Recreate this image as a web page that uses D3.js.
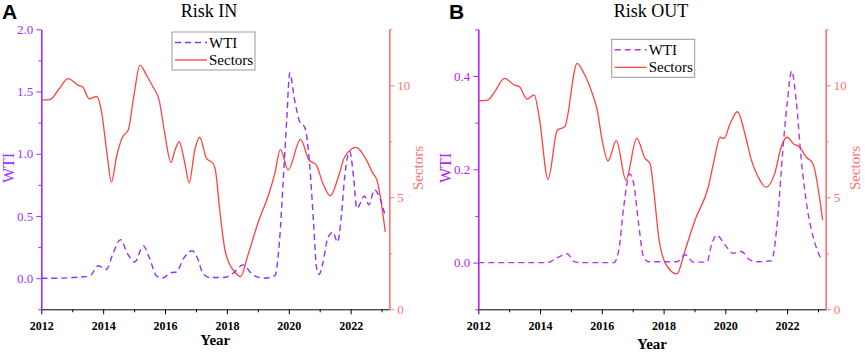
<!DOCTYPE html>
<html>
<head>
<meta charset="utf-8">
<script src="https://cdn.jsdelivr.net/npm/d3@7"></script>
<style>
  body { margin: 0; background: #fff; }
  text { font-family: "Liberation Serif", "Times New Roman", serif; }
  text.letter { font-family: "Liberation Sans", Arial, sans-serif; }
</style>
</head>
<body>
<div id="chart"></div>
<script>
const width = 865, height = 352;

// ---- data ----
const yearTicks = [2012, 2014, 2016, 2018, 2020, 2022];

// panel A, Risk IN
const wtiInYear = [2012.0, 2012.5, 2013.0, 2013.3, 2013.58, 2013.84, 2014.1, 2014.32, 2014.56, 2014.78, 2015.02, 2015.3, 2015.5, 2015.72, 2015.9, 2016.2, 2016.37, 2016.6, 2016.88, 2017.05, 2017.22, 2017.45, 2017.9, 2018.2, 2018.52, 2018.84, 2019.2, 2019.55, 2019.7, 2019.82, 2019.94, 2020.03, 2020.19, 2020.35, 2020.52, 2020.68, 2020.8, 2020.9, 2020.98, 2021.1, 2021.27, 2021.42, 2021.58, 2021.7, 2021.81, 2021.97, 2022.1, 2022.2, 2022.45, 2022.59, 2022.77, 2022.88, 2023.1];
const wtiInVal = [0, 0, 0.005, 0.01, 0.02, 0.1, 0.07, 0.2, 0.31, 0.2, 0.13, 0.26, 0.16, 0.02, 0.0, 0.045, 0.05, 0.16, 0.22, 0.16, 0.04, 0.005, 0.005, 0.04, 0.107, 0.027, 0.0, 0.02, 0.3, 0.78, 1.3, 1.65, 1.43, 1.26, 1.21, 0.9, 0.45, 0.08, 0.03, 0.12, 0.33, 0.37, 0.29, 0.5, 0.82, 1.02, 0.8, 0.56, 0.66, 0.59, 0.71, 0.68, 0.52];
const sectorsInYear = [2012.0, 2012.28, 2012.55, 2012.87, 2013.2, 2013.34, 2013.55, 2013.79, 2013.95, 2014.11, 2014.27, 2014.43, 2014.63, 2014.81, 2015.0, 2015.19, 2015.4, 2015.62, 2015.81, 2015.99, 2016.19, 2016.32, 2016.46, 2016.64, 2016.78, 2016.96, 2017.12, 2017.34, 2017.55, 2017.63, 2017.77, 2017.93, 2018.09, 2018.25, 2018.44, 2018.68, 2019.0, 2019.38, 2019.55, 2019.73, 2019.98, 2020.38, 2020.65, 2020.89, 2021.1, 2021.34, 2021.59, 2021.81, 2022.18, 2022.51, 2022.72, 2022.85, 2023.12];
const sectorsInVal = [9.35, 9.36, 9.79, 10.3, 10.0, 9.92, 9.4, 9.5, 8.8, 7.1, 5.68, 6.8, 7.7, 8.0, 9.6, 10.9, 10.45, 9.9, 9.34, 7.86, 6.55, 7.1, 7.48, 6.52, 5.65, 7.1, 7.68, 6.74, 6.52, 6.2, 4.4, 2.7, 2.0, 1.68, 1.46, 2.42, 3.84, 5.25, 6.07, 7.14, 6.22, 7.59, 6.67, 6.44, 5.63, 5.06, 5.85, 6.81, 7.23, 6.67, 6.07, 5.77, 3.46];

// panel B, Risk OUT
const wtiOutYear = [2012.0, 2014.24, 2014.51, 2014.88, 2015.1, 2015.3, 2016.39, 2016.55, 2016.71, 2016.9, 2017.03, 2017.19, 2017.35, 2017.51, 2018.43, 2018.7, 2018.97, 2019.4, 2019.56, 2019.72, 2019.99, 2020.25, 2020.52, 2020.79, 2021.06, 2021.49, 2021.7, 2021.86, 2022.0, 2022.15, 2022.29, 2022.45, 2022.66, 2022.87, 2023.11];
const wtiOutVal = [0, 0, 0.009, 0.019, 0.002, 0, 0, 0.027, 0.12, 0.19, 0.17, 0.084, 0.013, 0.002, 0.002, 0.017, 0.001, 0.001, 0.04, 0.059, 0.038, 0.02, 0.024, 0.006, 0.002, 0.004, 0.099, 0.24, 0.34, 0.411, 0.35, 0.227, 0.113, 0.049, 0.006];
const sectorsOutYear = [2012.0, 2012.31, 2012.53, 2012.85, 2013.17, 2013.33, 2013.58, 2013.81, 2013.97, 2014.26, 2014.56, 2014.8, 2015.2, 2015.42, 2015.69, 2015.85, 2016.01, 2016.2, 2016.47, 2016.78, 2017.13, 2017.4, 2017.56, 2017.68, 2017.84, 2018.06, 2018.43, 2018.7, 2019.02, 2019.45, 2019.64, 2019.83, 2019.96, 2020.15, 2020.39, 2020.63, 2020.84, 2021.06, 2021.32, 2021.6, 2021.81, 2022.0, 2022.22, 2022.4, 2022.61, 2022.83, 2023.15];
const sectorsOutVal = [9.31, 9.34, 9.71, 10.31, 10.01, 9.94, 9.38, 9.57, 8.6, 5.8, 8.0, 8.15, 10.98, 10.54, 9.64, 8.9, 7.56, 6.62, 7.53, 5.77, 7.63, 6.74, 6.52, 5.33, 3.24, 2.05, 1.58, 2.65, 3.99, 5.47, 6.67, 7.68, 7.63, 8.27, 8.82, 7.86, 6.67, 5.92, 5.45, 6.07, 7.26, 7.68, 7.37, 7.26, 6.81, 6.52, 3.99];

const svg = d3.select("#chart")
  .append("svg")
  .attr("width", width)
  .attr("height", height);

const zip = (xs, ys) => xs.map((x, i) => ({ year: x, v: ys[i] }));

function drawPanel(p) {
  const top = 29.3, bottom = 309.3;
  const x = d3.scaleLinear().domain([2012, 2023.25]).range([p.left, p.right]);
  const yL = d3.scaleLinear().domain(p.wtiDomain).range([bottom, top]);
  const yR = d3.scaleLinear().domain([0, 12.5]).range([bottom, top]);

  const g = svg.append("g");

  // bottom axis: minor ticks first, then labelled ones
  g.append("g")
    .attr("transform", `translate(0,${bottom})`)
    .call(d3.axisBottom(x).tickValues(d3.range(2013, 2024, 2)).tickSize(3).tickFormat(""))
    .call(a => a.select(".domain").remove());
  g.append("g")
    .attr("class", "x-axis")
    .attr("transform", `translate(0,${bottom})`)
    .call(d3.axisBottom(x).tickValues(yearTicks).tickSize(5).tickSizeOuter(0).tickFormat(d3.format("d")))
    .call(a => a.selectAll("text")
      .attr("font-size", 12).attr("font-weight", "bold")
      .attr("font-family", "Liberation Serif").attr("dy", "1.05em"));

  // left WTI axis
  g.append("g")
    .attr("transform", `translate(${p.left},0)`)
    .call(d3.axisLeft(yL).tickValues(p.wtiMinor).tickSize(3).tickFormat(""))
    .call(a => a.select(".domain").remove())
    .call(a => a.selectAll("line").attr("stroke", p.axisPurple));
  g.append("g")
    .attr("transform", `translate(${p.left},0)`)
    .call(d3.axisLeft(yL).tickValues(p.wtiTicks).tickSize(5).tickSizeOuter(0).tickFormat(d3.format(".1f")))
    .call(a => a.select(".domain").attr("stroke", p.axisPurple).attr("stroke-width", 1.6))
    .call(a => a.selectAll("line").attr("stroke", p.axisPurple))
    .call(a => a.selectAll("text").attr("fill", p.axisPurple)
      .attr("font-size", 13).attr("font-family", "Liberation Serif"));

  // right Sectors axis
  const red = "#ff4242", redAxis = "#ff7373";
  g.append("g")
    .attr("transform", `translate(${p.right},0)`)
    .call(d3.axisRight(yR).tickValues([2.5, 7.5, 12.5]).tickSize(3).tickFormat(""))
    .call(a => a.select(".domain").remove())
    .call(a => a.selectAll("line").attr("stroke", redAxis));
  g.append("g")
    .attr("transform", `translate(${p.right},0)`)
    .call(d3.axisRight(yR).tickValues([0, 5, 10]).tickSize(5).tickSizeOuter(0))
    .call(a => a.select(".domain").attr("stroke", redAxis).attr("stroke-width", 1.6))
    .call(a => a.selectAll("line").attr("stroke", redAxis))
    .call(a => a.selectAll("text").attr("fill", redAxis)
      .attr("font-size", 13).attr("font-family", "Liberation Serif"));

  // lines
  const lineL = d3.line().x(d => x(d.year)).y(d => yL(d.v)).curve(d3.curveMonotoneX);
  const lineR = d3.line().x(d => x(d.year)).y(d => yR(d.v)).curve(d3.curveMonotoneX);

  g.append("path")
    .datum(zip(p.sectorsYear, p.sectorsVal))
    .attr("d", lineR)
    .attr("fill", "none")
    .attr("stroke", red)
    .attr("stroke-width", 1.3);

  g.append("path")
    .datum(zip(p.wtiYear, p.wtiVal))
    .attr("d", lineL)
    .attr("fill", "none")
    .attr("stroke", p.linePurple)
    .attr("stroke-width", 1.4)
    .attr("stroke-dasharray", "6,4");

  // titles and labels
  svg.append("text")
    .attr("class", "letter")
    .attr("x", p.letterX).attr("y", 19)
    .attr("font-weight", "bold")
    .attr("font-size", 21)
    .text(p.letter);

  svg.append("text")
    .attr("x", p.titleX).attr("y", 17)
    .attr("text-anchor", "middle")
    .attr("font-size", 18)
    .text(p.title);

  svg.append("text")
    .attr("x", (p.left + p.right) / 2 + p.yearDx).attr("y", p.yearY)
    .attr("text-anchor", "middle")
    .attr("font-size", 15).attr("font-weight", "bold")
    .text("Year");

  svg.append("text")
    .attr("transform", `translate(${p.wtiLabelX},168) rotate(-90)`)
    .attr("text-anchor", "middle")
    .attr("font-size", 16)
    .attr("fill", p.axisPurple)
    .text("WTI");

  svg.append("text")
    .attr("transform", `translate(${p.right + 34},168) rotate(-90)`)
    .attr("text-anchor", "middle")
    .attr("font-size", 15)
    .attr("fill", redAxis)
    .text("Sectors");

  // legend
  const lg = svg.append("g").attr("transform", `translate(${p.legX},${p.legY})`);
  lg.append("rect")
    .attr("width", 83).attr("height", 38)
    .attr("fill", "#fff").attr("stroke", "#999").attr("stroke-width", 1);
  lg.append("line")
    .attr("x1", 3).attr("x2", 35).attr("y1", 10.5).attr("y2", 10.5)
    .attr("stroke", p.linePurple).attr("stroke-width", 1.4).attr("stroke-dasharray", "6,4");
  lg.append("line")
    .attr("x1", 3).attr("x2", 35).attr("y1", 28).attr("y2", 28)
    .attr("stroke", red).attr("stroke-width", 1.3);
  lg.append("text").attr("x", 37).attr("y", 15.5).attr("font-size", 15).text("WTI");
  lg.append("text").attr("x", 37).attr("y", 33).attr("font-size", 15).text("Sectors");
}

drawPanel({
  left: 41.3, right: 389.3,
  wtiDomain: [-0.25, 2.0],
  wtiTicks: [0, 0.5, 1.0, 1.5, 2.0],
  wtiMinor: [-0.25, 0.25, 0.75, 1.25, 1.75],
  axisPurple: "#9933ff", linePurple: "#8c33ff",
  wtiYear: wtiInYear, wtiVal: wtiInVal,
  sectorsYear: sectorsInYear, sectorsVal: sectorsInVal,
  letter: "A", letterX: 2, title: "Risk IN", titleX: 209,
  yearDx: 0, yearY: 345,
  wtiLabelX: 14,
  legX: 172, legY: 32
});

drawPanel({
  left: 478.3, right: 825.7,
  wtiDomain: [-0.1, 0.5],
  wtiTicks: [0, 0.2, 0.4],
  wtiMinor: [-0.1, 0.1, 0.3, 0.5],
  axisPurple: "#bb22ee", linePurple: "#b535e8",
  wtiYear: wtiOutYear, wtiVal: wtiOutVal,
  sectorsYear: sectorsOutYear, sectorsVal: sectorsOutVal,
  letter: "B", letterX: 449, title: "Risk OUT", titleX: 651,
  yearDx: 0, yearY: 349,
  wtiLabelX: 451,
  legX: 611.7, legY: 39.3
});
</script>
</body>
</html>
